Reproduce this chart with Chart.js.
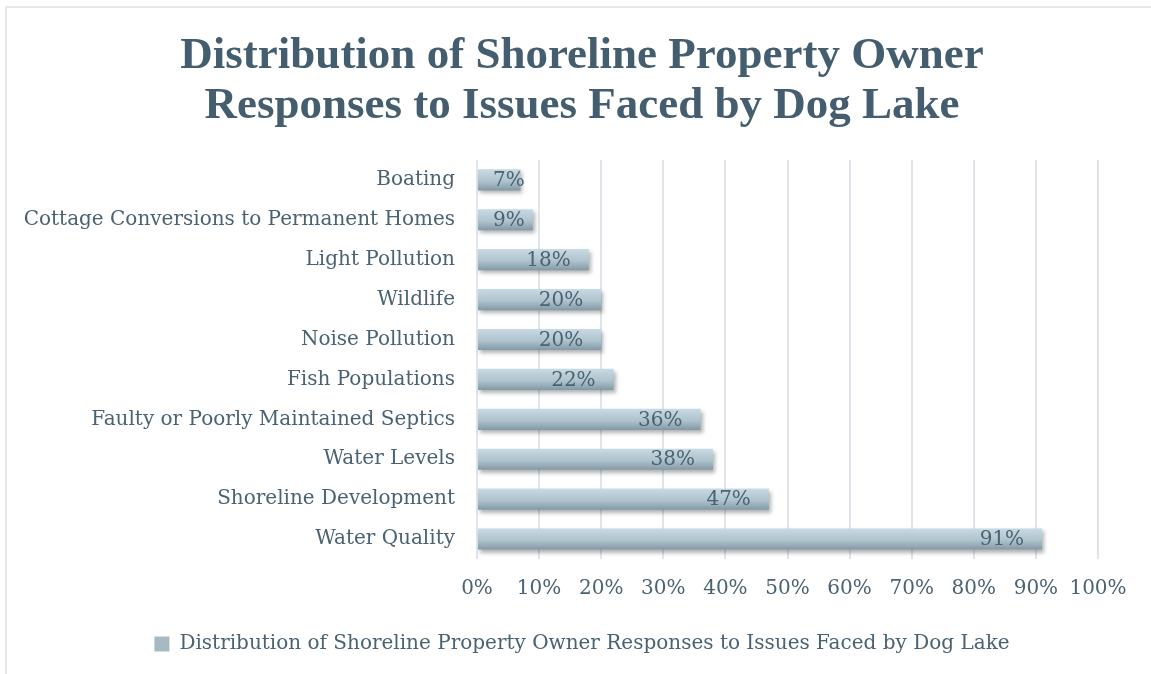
<!DOCTYPE html>
<html>
<head>
<meta charset="utf-8">
<script src="https://cdn.jsdelivr.net/npm/chart.js@4"></script>
<style>
  html, body { margin: 0; padding: 0; background: #fff; overflow: hidden; }
  body { width: 1151px; height: 674px; position: relative; }
  #frame { position: absolute; left: 5px; top: 6px; width: 1160px; height: 680px;
           border-top: 2px solid #e4e9ed; border-left: 2px solid #e4e9ed; }
  #wrap { position: absolute; left: 6px; top: 7px; width: 1152px; height: 667px; }
</style>
</head>
<body>
<div id="frame"></div>
<div id="wrap"><canvas id="lake-chart"></canvas></div>
<script>
var chartTitle = ['Distribution of Shoreline Property Owner', 'Responses to Issues Faced by Dog Lake'];
var seriesName = 'Distribution of Shoreline Property Owner Responses to Issues Faced by Dog Lake';
var categories = [
  'Boating',
  'Cottage Conversions to Permanent Homes',
  'Light Pollution',
  'Wildlife',
  'Noise Pollution',
  'Fish Populations',
  'Faulty or Poorly Maintained Septics',
  'Water Levels',
  'Shoreline Development',
  'Water Quality'
];
var percentValues = [7, 9, 18, 20, 20, 22, 36, 38, 47, 91];
var tickValues = [0, 10, 20, 30, 40, 50, 60, 70, 80, 90, 100];

var textColor = '#4a6272';
var labelFont = 'DejaVu Serif';

function barGradient(context) {
  var chart = context.chart;
  var meta = chart.getDatasetMeta(0);
  var el = meta.data[context.dataIndex];
  if (!el || el.y === undefined || !el.height) {
    return '#a9bcc6';
  }
  var g = chart.ctx.createLinearGradient(0, el.y - el.height / 2, 0, el.y + el.height / 2);
  g.addColorStop(0, '#c8dae3');
  g.addColorStop(0.55, '#b0c4ce');
  g.addColorStop(1, '#8299a5');
  return g;
}

// soft shadow under bars
var shadowPlugin = {
  id: 'barShadow',
  beforeDatasetDraw: function (chart) {
    var ctx = chart.ctx;
    ctx.save();
    ctx.shadowColor = 'rgba(0, 0, 0, 0.3)';
    ctx.shadowBlur = 4;
    ctx.shadowOffsetX = 2;
    ctx.shadowOffsetY = 3;
  },
  afterDatasetDraw: function (chart) {
    chart.ctx.restore();
  }
};

// value labels at the inside end of each bar
var valueLabelPlugin = {
  id: 'valueLabels',
  afterDatasetsDraw: function (chart) {
    var ctx = chart.ctx;
    var meta = chart.getDatasetMeta(0);
    var base = chart.scales.x.getPixelForValue(0);
    ctx.save();
    ctx.font = '20px "' + labelFont + '"';
    ctx.fillStyle = textColor;
    ctx.textAlign = 'right';
    ctx.textBaseline = 'middle';
    meta.data.forEach(function (bar, i) {
      var txt = percentValues[i] + '%';
      var w = ctx.measureText(txt).width;
      var right = Math.max(bar.x - 18, base + 16 + w);
      ctx.fillText(txt, right, bar.y + 1);
    });
    ctx.restore();
  }
};

var ctx = document.getElementById('lake-chart').getContext('2d');
var chart = new Chart(ctx, {
  type: 'bar',
  data: {
    labels: categories,
    datasets: [{
      label: seriesName,
      data: percentValues,
      backgroundColor: barGradient,
      borderWidth: 0,
      categoryPercentage: 1,
      barPercentage: 0.53
    }]
  },
  options: {
    indexAxis: 'y',
    responsive: true,
    maintainAspectRatio: false,
    animation: false,
    layout: { padding: { left: 0, right: 0, top: 0, bottom: 10 } },
    plugins: {
      title: {
        display: true,
        text: chartTitle,
        color: '#445e6f',
        font: { family: 'Liberation Serif', size: 45, weight: 'bold', lineHeight: 1.11 },
        padding: { top: 24, bottom: 29 }
      },
      legend: {
        position: 'bottom',
        labels: {
          color: textColor,
          font: { family: labelFont, size: 20 },
          boxWidth: 15,
          boxHeight: 15,
          padding: 12,
          generateLabels: function (chart) {
            return [{
              text: seriesName,
              fillStyle: '#a7bac4',
              strokeStyle: '#a7bac4',
              fontColor: textColor,
              lineWidth: 0,
              datasetIndex: 0
            }];
          }
        }
      },
      tooltip: { enabled: false }
    },
    scales: {
      x: {
        min: 0,
        max: 100,
        afterBuildTicks: function (axis) {
          axis.ticks = tickValues.map(function (v) { return { value: v }; });
        },
        afterFit: function (axis) { axis.height = 63; },
        ticks: {
          color: textColor,
          font: { family: labelFont, size: 20 },
          padding: 18,
          maxRotation: 0,
          minRotation: 0,
          autoSkip: false,
          callback: function (v) { return v + '%'; }
        },
        grid: { color: '#dfe5ea', lineWidth: 2, drawTicks: false },
        border: { display: false }
      },
      y: {
        afterFit: function (axis) { axis.width = 471; },
        ticks: {
          color: textColor,
          font: { family: labelFont, size: 20 },
          padding: 22,
          autoSkip: false
        },
        grid: { display: false, drawTicks: false },
        border: { display: false }
      },
      // empty right-hand spacer so the plot stops short of the right edge
      spacer: {
        axis: 'y',
        type: 'category',
        position: 'right',
        ticks: { display: false },
        grid: { display: false, drawTicks: false },
        border: { display: false },
        afterFit: function (axis) { axis.width = 60; }
      }
    }
  },
  plugins: [shadowPlugin, valueLabelPlugin]
});
chart.update('none');
</script>
</body>
</html>
